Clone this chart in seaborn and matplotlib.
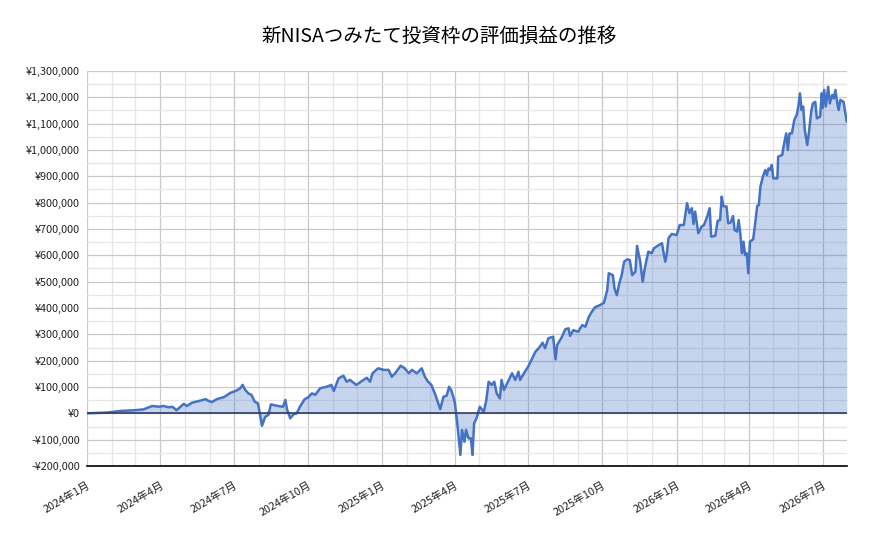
import numpy as np
import pandas as pd
import matplotlib
matplotlib.use("Agg")
import matplotlib.pyplot as plt
import matplotlib.dates as mdates
from matplotlib.ticker import MultipleLocator, FuncFormatter
import seaborn as sns

# ==============================
# DATI
# ==============================
start_date = "2024-01-01"
end_date = "2026-07-31"

# giorni dal 2024-01-01
days = [
    0, 25, 41, 60, 70, 81, 89, 95, 101, 106, 111, 116, 120, 124, 130, 139,
    147, 151, 155, 161, 170, 178, 185, 190, 193, 196, 200, 204, 208, 212,
    217, 221, 225, 228, 235, 243, 246, 248, 252, 256, 260, 264, 270, 274,
    279, 283, 289, 297, 303, 306, 312, 318, 322, 326, 334, 341, 347, 351,
    354, 361, 368, 374, 378, 382, 389, 394, 399, 403, 409, 415, 419, 423,
    427, 432, 438, 442, 446, 449, 452, 456, 459, 463, 465, 468, 470, 473,
    476, 478, 480, 483, 487, 492, 495, 498, 502, 505, 508, 512, 514, 517,
    521, 527, 531, 535, 537, 543, 547, 552, 556, 560, 565, 568, 572, 578,
    581, 583, 589, 593, 597, 599, 603, 609, 614, 618, 622, 626, 630, 636,
    641, 645, 647, 652, 654, 657, 660, 663, 666, 670, 673, 676, 680, 682,
    686, 689, 692, 696, 700, 703, 709, 713, 715, 717, 719, 721, 725, 731,
    735, 740, 744, 747, 750, 752, 754, 758, 762, 765, 769, 772, 774, 779,
    782, 785, 787, 789, 793, 795, 798, 801, 803, 806, 808, 810, 812, 814,
    816, 818, 820, 822, 826, 829, 831, 833, 835, 838, 841, 843, 845, 847,
    849, 851, 856, 857, 862, 864, 867, 869, 871, 874, 877, 880, 882, 884,
    886, 888, 890, 893, 895, 898, 900, 903, 905, 909, 911, 912, 914, 916,
    919, 921, 924, 926, 928, 930, 932, 934, 938, 942,
]

# valori in migliaia di yen
values_k = [
    0, 3, 9, 12, 15, 28, 25, 28, 23, 25, 12, 25, 36, 28, 40, 47,
    54, 47, 43, 54, 62, 78, 86, 95, 108, 90, 76, 70, 44, 38,
    -47, -13, -6, 34, 29, 25, 51, 16, -19, -4, 0, 25, 54, 60,
    76, 70, 95, 101, 108, 85, 133, 143, 120, 127, 108, 123, 135, 120,
    152, 171, 165, 165, 139, 152, 181, 171, 152, 165, 152, 171, 139, 120,
    108, 70, 16, 63, 67, 101, 85, 44, -35, -158, -63, -108, -63, -95,
    -95, -158, -38, -19, 25, 6, 48, 120, 108, 120, 76, 57, 127, 89,
    114, 152, 127, 158, 127, 158, 177, 209, 234, 247, 268, 247, 285, 291,
    205, 260, 291, 319, 323, 294, 316, 310, 335, 329, 365, 386, 403, 411,
    420, 468, 532, 525, 475, 449, 494, 525, 576, 585, 582, 525, 538, 636,
    576, 500, 557, 614, 608, 627, 639, 646, 608, 576, 608, 665, 681, 677,
    715, 715, 798, 760, 779, 719, 766, 684, 709, 715, 747, 779, 671, 674,
    731, 734, 823, 787, 785, 722, 724, 749, 696, 690, 734, 684, 608, 652,
    601, 608, 532, 652, 661, 734, 787, 791, 861, 899, 924, 905, 930, 924,
    943, 892, 892, 975, 981, 1019, 1063, 1000, 1063, 1063, 1114, 1133, 1165, 1215,
    1152, 1165, 1076, 1019, 1063, 1146, 1177, 1183, 1120, 1127, 1215, 1159, 1228, 1165,
    1240, 1177, 1209, 1196, 1228, 1183, 1152, 1190, 1183, 1108,
]

df = pd.DataFrame({
    "data": pd.Timestamp(start_date) + pd.to_timedelta(days, unit="D"),
    "valore": np.array(values_k) * 1000,
})

# ==============================
# STILE
# ==============================
sns.set_style("white")
plt.rcParams["font.family"] = ["Noto Sans CJK JP", "DejaVu Sans"]

blu = "#4472C4"

fig = plt.figure(figsize=(8.74, 5.41), dpi=100)
ax = fig.add_axes([0.0995, 0.1386, 0.8693, 0.7302])

# griglia
ax.set_axisbelow(True)
ax.grid(which="major", color="#C9C9C9", linewidth=0.9)
ax.grid(which="minor", color="#E6E6E6", linewidth=0.9)

sns.lineplot(data=df, x="data", y="valore", color=blu, linewidth=1.8, ax=ax)
ax.fill_between(df["data"], df["valore"], 0, color=blu, alpha=0.3, linewidth=0)
ax.axhline(0, color="#2F3D66", linewidth=1.2)

ax.set_xlim(pd.Timestamp(start_date), pd.Timestamp(end_date))
ax.set_ylim(-200000, 1300000)

# asse y
ax.yaxis.set_major_locator(MultipleLocator(100000))
ax.yaxis.set_minor_locator(MultipleLocator(50000))
ax.yaxis.set_major_formatter(FuncFormatter(
    lambda v, p: f"¥{v:,.0f}" if v >= 0 else f"-¥{-v:,.0f}"))

# asse x
ax.xaxis.set_major_locator(mdates.MonthLocator(bymonth=[1, 4, 7, 10]))
ax.xaxis.set_minor_locator(mdates.MonthLocator())

def fmt_data(x, pos):
    d = mdates.num2date(x)
    return f"{d.year}年{d.month}月"

ax.xaxis.set_major_formatter(FuncFormatter(fmt_data))

for s in ["top", "right", "left"]:
    ax.spines[s].set_visible(False)
ax.spines["bottom"].set_color("black")
ax.spines["bottom"].set_linewidth(1.2)

ax.tick_params(axis="y", which="both", length=0, labelsize=7.8,
               labelcolor="#222222", pad=5)
ax.tick_params(axis="x", which="major", direction="inout", length=12,
               width=1.2, color="black", labelsize=7.8, labelcolor="#222222", pad=4)
ax.tick_params(axis="x", which="minor", direction="inout", length=6,
               width=1.0, color="black")

for lab in ax.get_xticklabels():
    lab.set_rotation(30)
    lab.set_ha("right")
    lab.set_rotation_mode("anchor")

ax.set_xlabel("")
ax.set_ylabel("")

fig.suptitle("新NISAつみたて投資枠の評価損益の推移", x=0.502, y=0.952,
             fontsize=14, color="black")

fig.savefig("out.png", dpi=100)
